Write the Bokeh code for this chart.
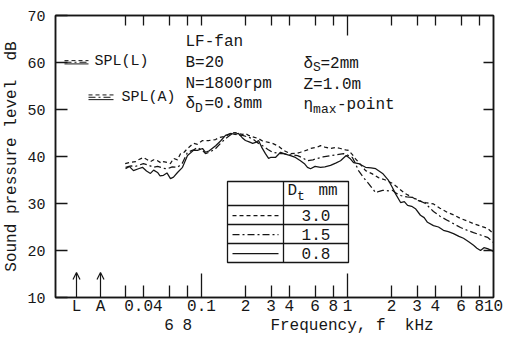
from bokeh.plotting import figure
from bokeh.models import (LogAxis, LinearAxis, FixedTicker, Range1d, Arrow, OpenHead)
from bokeh.core.properties import value
from bokeh.embed import file_html
from bokeh.resources import INLINE

# ---------------- data ----------------
freq_30 = [0.030, 0.033, 0.0353, 0.037, 0.040, 0.042, 0.0447, 0.047, 0.050, 0.053, 0.0549, 0.0585,
           0.0613, 0.0643, 0.0685, 0.0718, 0.0760, 0.0802, 0.0881, 0.0939, 0.1016, 0.1116, 0.125,
           0.131, 0.146, 0.158, 0.170, 0.179, 0.191, 0.200, 0.210, 0.224, 0.246, 0.262, 0.288,
           0.306, 0.337, 0.365, 0.407, 0.455, 0.476, 0.532, 0.558, 0.623, 0.653, 0.70, 0.765, 0.83,
           0.896, 0.969, 1.016, 1.08, 1.135, 1.19, 1.33, 1.48, 1.63, 1.82, 2.03, 2.25, 2.49, 2.75,
           3.06, 3.42, 3.88, 4.3, 4.84, 5.4, 5.94, 6.6, 7.3, 8.15, 9.1, 10.0]
spl_30 = [38.5, 38.8, 38.9, 39.3, 39.8, 39.4, 38.9, 39.3, 39.1, 38.6, 38.9, 38.7,
          38.5, 39.6, 39.3, 40.6, 40.9, 41.7, 42.8, 42.6, 43.4, 43.4, 43.6,
          44.0, 44.3, 44.9, 45.1, 44.9, 44.7, 44.9, 44.5, 44.2, 43.8, 43.3, 43.0,
          42.8, 42.2, 41.3, 40.6, 40.7, 40.9, 41.4, 41.7, 42.0, 42.3, 42.0, 41.7, 41.9,
          41.7, 41.4, 41.3, 40.4, 39.5, 38.8, 37.0, 36.3, 35.5, 35.0, 34.3, 33.2, 32.1, 31.4,
          30.6, 30.2, 29.9, 29.0, 28.1, 27.5, 26.8, 26.3, 25.7, 25.2, 24.7, 23.6]

freq_15 = [0.0302, 0.033, 0.0353, 0.040, 0.043, 0.0469, 0.050, 0.0549, 0.0585, 0.063, 0.0685,
           0.074, 0.0802, 0.0881, 0.0939, 0.1016, 0.1065, 0.115, 0.125, 0.135, 0.146, 0.155,
           0.163, 0.175, 0.191, 0.205, 0.224, 0.240, 0.262, 0.285, 0.306, 0.348, 0.365, 0.40,
           0.455, 0.50, 0.532, 0.58, 0.623, 0.68, 0.765, 0.85, 0.94, 1.0, 1.08, 1.13, 1.19,
           1.28, 1.39, 1.48, 1.56, 1.65, 1.74, 1.90, 2.03, 2.15, 2.31, 2.55, 2.79, 3.06, 3.42,
           3.88, 4.3, 4.84, 5.4, 5.94, 6.6, 7.3, 8.15, 9.1, 10.0]
spl_15 = [37.7, 38.0, 37.9, 38.5, 38.2, 37.7, 37.9, 37.5, 37.4, 37.8, 37.7,
          38.6, 40.9, 41.4, 41.9, 41.3, 40.6, 41.0, 41.7, 42.8, 43.8, 44.4,
          44.9, 44.6, 44.5, 44.2, 43.8, 43.0, 42.3, 41.5, 40.9, 40.6, 40.6, 40.4,
          40.2, 39.6, 39.1, 39.3, 39.6, 39.9, 40.2, 40.4, 40.6, 40.3, 39.8, 38.6, 37.0,
          35.6, 34.3, 33.2, 32.3, 32.6, 32.8, 32.7, 32.8, 32.2, 31.7, 31.4, 31.3, 30.7, 30.0,
          28.3, 27.3, 26.4, 25.6, 24.9, 24.3, 23.8, 23.3, 22.8, 21.7]

freq_08 = [0.0302, 0.032, 0.0342, 0.037, 0.0394, 0.042, 0.0447, 0.047, 0.050, 0.052, 0.0549,
           0.058, 0.0613, 0.0643, 0.0685, 0.0741, 0.0802, 0.0881, 0.0939, 0.1016, 0.1065, 0.113,
           0.125, 0.135, 0.146, 0.158, 0.170, 0.179, 0.190, 0.200, 0.212, 0.224, 0.235, 0.246,
           0.258, 0.274, 0.288, 0.297, 0.321, 0.348, 0.375, 0.407, 0.44, 0.476, 0.51, 0.532,
           0.558, 0.60, 0.653, 0.70, 0.765, 0.83, 0.896, 0.98, 1.04, 1.10, 1.19, 1.33, 1.45,
           1.56, 1.74, 1.91, 2.03, 2.13, 2.31, 2.45, 2.58, 2.75, 2.92, 3.16, 3.35, 3.53, 3.88,
           4.2, 4.54, 4.9, 5.32, 5.8, 6.23, 6.8, 7.3, 7.7, 8.15, 8.6, 9.1, 10.0]
spl_08 = [37.4, 37.9, 37.0, 37.4, 37.7, 36.9, 36.4, 37.1, 36.6, 35.9, 36.0,
          36.5, 35.3, 35.6, 36.6, 37.7, 40.2, 41.3, 41.3, 41.7, 40.9, 41.2,
          42.3, 43.3, 44.5, 44.9, 44.7, 44.9, 44.0, 43.4, 43.1, 42.8, 43.0, 43.4,
          42.0, 40.6, 39.6, 39.8, 39.8, 40.9, 40.5, 40.2, 39.8, 39.1, 38.4, 37.7,
          37.4, 37.9, 37.7, 37.8, 38.1, 38.6, 39.1, 40.2, 39.6, 38.7, 38.5, 37.7, 37.6,
          37.4, 36.4, 34.9, 33.4, 32.1, 30.2, 30.4, 29.6, 29.4, 28.9, 27.5, 27.0, 26.0, 25.3,
          25.0, 24.3, 24.0, 23.6, 23.0, 22.6, 21.8, 21.1, 20.5, 20.0, 20.6, 20.4, 19.8]

dt_labels = ["3.0", "1.5", "0.8"]          # D_t mm, legend order
overall_L = [60.4, 60.05, 59.7]            # overall SPL(L) for 3.0, 1.5, 0.8
overall_A = [53.1, 52.6, 52.1]             # overall SPL(A) for 3.0, 1.5, 0.8

x_ticks_labeled = [0.04, 0.1, 0.2, 0.3, 0.4, 0.6, 0.8, 1.0, 2.0, 3.0, 4.0, 6.0, 8.0, 10.0]
x_tick_text = ["0.04", "0.1", "2", "3", "4", "6", "8", "1", "2", "3", "4", "6", "8", "10"]
x_ticks_tall = [0.1, 1.0]
x_ticks_short = [0.03, 0.04, 0.06, 0.08, 0.2, 0.3, 0.4, 0.6, 0.8, 2.0, 3.0, 4.0, 6.0, 8.0]
x_ticks_row2 = [0.06, 0.08]
x_tick_text_row2 = ["6", "8"]
x_title = "Frequency, f\u00a0 kHz"
y_title = "Sound pressure level\u00a0 dB"
y_ticks = [10, 20, 30, 40, 50, 60, 70]

# ---------------- styling / geometry ----------------
FONT = "Liberation Mono"
INK = "#161616"
W, H = 507, 343
FL, FR, FT, FB = 55, 493, 15, 297
X0, X1 = 0.01, 10.0
Y0, Y1 = 10, 70
DASH_30 = "4 3"
DASH_15 = "7 3 2 3"
DASH_08 = "solid"
LW = 1.25


def fx(px):
    return X0 * (X1 / X0) ** ((px - FL) / (FR - FL))


def fy(py):
    return Y0 + (FB - py) * (Y1 - Y0) / (FB - FT)


p = figure(width=W, height=H, x_axis_type="log",
           x_range=Range1d(X0, X1), y_range=Range1d(Y0, Y1),
           x_axis_location=None, y_axis_location=None,
           output_backend="svg", toolbar_location=None,
           min_border_left=FL, min_border_right=W - FR,
           min_border_top=FT, min_border_bottom=H - FB,
           background_fill_color="white", border_fill_color="white")
p.outline_line_color = INK
p.outline_line_width = 1.5
p.grid.visible = False


def style_axis(ax, size="16px"):
    ax.axis_line_color = INK
    ax.axis_line_width = 1.5
    ax.major_tick_line_color = INK
    ax.minor_tick_line_color = INK
    ax.major_tick_line_width = 1.3
    ax.minor_tick_line_width = 1.3
    ax.major_tick_out = 0
    ax.minor_tick_out = 0
    ax.major_label_text_font = FONT
    ax.major_label_text_font_size = size
    ax.major_label_text_color = INK
    ax.axis_label_text_font = FONT
    ax.axis_label_text_font_style = "normal"
    ax.axis_label_text_color = INK
    ax.axis_label_text_font_size = "16px"


# bottom: tick marks only
bt = LogAxis(ticker=FixedTicker(ticks=x_ticks_tall, minor_ticks=x_ticks_short))
style_axis(bt, "0px")
bt.major_tick_in = 24
bt.minor_tick_in = 12
bt.major_label_standoff = 0
bt.major_label_overrides = {t: "" for t in x_ticks_tall}

# bottom: first row of labels (plus L / A markers)
L_pos, A_pos = fx(76), fx(100)
bl = LogAxis(ticker=FixedTicker(ticks=[L_pos, A_pos] + x_ticks_labeled, minor_ticks=[]))
style_axis(bl)
bl.axis_line_color = None
bl.major_tick_in = 0
bl.major_label_standoff = 0
ov = {L_pos: "L", A_pos: "A"}
ov.update(dict(zip(x_ticks_labeled, x_tick_text)))
bl.major_label_overrides = ov

# bottom: second row of labels (6, 8) and the axis title on the same row
T_pos = fx(351.5)
b2 = LogAxis(ticker=FixedTicker(ticks=x_ticks_row2 + [T_pos], minor_ticks=[]))
style_axis(b2)
b2.axis_line_color = None
b2.major_tick_in = 0
b2.major_label_standoff = -2
ov2 = dict(zip(x_ticks_row2, x_tick_text_row2))
ov2[T_pos] = x_title
b2.major_label_overrides = ov2

# top ticks
ta = LogAxis(ticker=FixedTicker(ticks=[1.0], minor_ticks=[0.03, 0.04, 0.06, 0.08, 0.1] + x_ticks_short[4:]))
style_axis(ta, "0px")
ta.major_tick_in = 20
ta.minor_tick_in = 10
ta.major_label_standoff = 0
ta.major_label_overrides = {1.0: ""}

# left axis
la = LinearAxis(ticker=FixedTicker(ticks=y_ticks, minor_ticks=[]), axis_label=y_title)
style_axis(la, "15px")
la.major_tick_in = 12
la.major_label_standoff = 10
la.axis_label_standoff = 3

# right axis
ra = LinearAxis(ticker=FixedTicker(ticks=y_ticks[1:-1], minor_ticks=[]))
style_axis(ra, "0px")
ra.major_tick_in = 10
ra.major_label_standoff = 0
ra.major_label_overrides = {t: "" for t in y_ticks[1:-1]}

p.add_layout(bt, "below")
p.add_layout(bl, "below")
p.add_layout(b2, "below")
p.add_layout(ta, "above")
p.add_layout(la, "left")
p.add_layout(ra, "right")

# ---------------- curves ----------------
p.line(freq_30, spl_30, line_color=INK, line_width=LW, line_dash=DASH_30)
p.line(freq_15, spl_15, line_color=INK, line_width=LW, line_dash=DASH_15)
p.line(freq_08, spl_08, line_color=INK, line_width=LW, line_dash=DASH_08)

# overall levels at L and A positions
HALF = 12
for lv_l, lv_a, dash in zip(overall_L, overall_A, [DASH_30, DASH_15, DASH_08]):
    p.segment(x0=[fx(76 - HALF), fx(100 - HALF)], y0=[lv_l, lv_a],
              x1=[fx(76 + HALF), fx(100 + 13)], y1=[lv_l, lv_a],
              line_color=INK, line_width=1.0, line_dash=dash)

for pos in (L_pos, A_pos):
    p.add_layout(Arrow(end=OpenHead(size=7, line_width=1.2, line_color=INK),
                       x_start=pos, y_start=Y0, x_end=pos, y_end=fy(272),
                       line_width=1.2, line_color=INK))

# ---------------- annotation texts ----------------
def txt(xs, ys, texts, size="16px", align="left"):
    p.text(x=xs, y=ys, text=texts, text_font=value(FONT), text_font_size=value(size),
           text_color=INK, text_align=align, text_baseline="middle")


txt([fx(94), fx(121)], [fy(61), fy(97)], ["SPL(L)", "SPL(A)"], size="15px")
txt([fx(185)] * 4, [fy(41), fy(62), fy(83), fy(103)], ["LF-fan", "B=20", "N=1800rpm", "\u03b4"])
txt([fx(204)], [fy(103)], ["=0.8mm"])
txt([fx(194.6)], [fy(108)], ["D"], size="13px")
txt([fx(303)] * 3, [fy(63), fy(84), fy(104)], ["\u03b4", "Z=1.0m", "\u03b7"])
txt([fx(312.6), fx(312.6)], [fy(67), fy(109)], ["S", "max"], size="13px")
txt([fx(320)], [fy(63)], ["=2mm"])
txt([fx(336.5)], [fy(104)], ["-point"])

# ---------------- D_t table ----------------
TL, TR, TT, TBm = 227, 348, 181, 262
p.quad(left=fx(TL), right=fx(TR), top=fy(TT), bottom=fy(TBm),
       fill_color="white", line_color=INK, line_width=1.3)
rows = [205, 224, 243]
p.segment(x0=[fx(TL)] * 3, x1=[fx(TR)] * 3, y0=[fy(r) for r in rows], y1=[fy(r) for r in rows],
          line_color=INK, line_width=1.3)
p.segment(x0=[fx(283)], x1=[fx(283)], y0=[fy(TT)], y1=[fy(TBm)], line_color=INK, line_width=1.3)
row_mid = [215, 234, 253]
for ym, dash in zip(row_mid, [DASH_30, DASH_15, DASH_08]):
    p.segment(x0=[fx(232)], x1=[fx(278)], y0=[fy(ym)], y1=[fy(ym)],
              line_color=INK, line_width=LW, line_dash=dash)
txt([fx(315.5)] * 3, [fy(y) for y in row_mid], dt_labels, align="center")
txt([fx(287), fx(318)], [fy(190), fy(190)], ["D", "mm"])
txt([fx(296.6)], [fy(196)], ["t"], size="13px")

open("out.html", "w").write(file_html(p, INLINE))
